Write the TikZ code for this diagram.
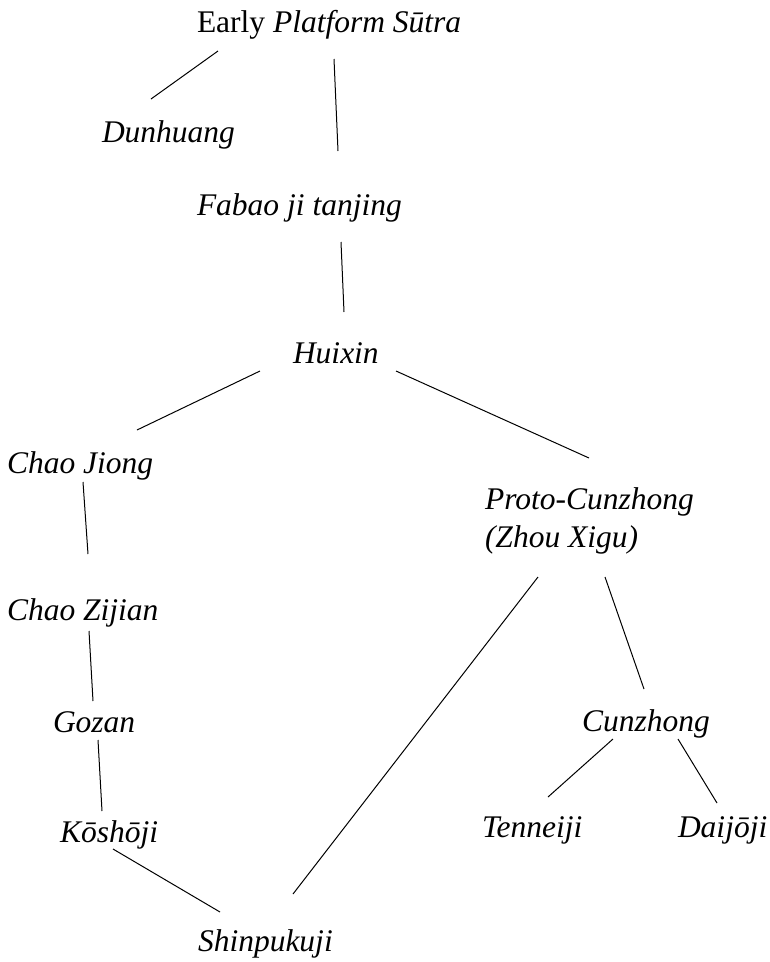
\documentclass[tikz,border=0pt]{standalone}
\usepackage{fontspec}
\setmainfont{Liberation Serif}
\tikzset{
  lbl/.style={anchor=base west, inner sep=0pt, outer sep=0pt, font=\fontsize{31.5}{38}\selectfont\itshape},
  conn/.style={line width=1pt, black}
}
\begin{document}
\begin{tikzpicture}[x=1pt, y=-1pt]
\useasboundingbox (0,0) rectangle (770,962);
\node[lbl] (early) at (197,32) {\upshape Early \itshape Platform Sūtra};
\node[lbl] (dun) at (102,142) {Dunhuang};
\node[lbl] (fab) at (197,215) {Fabao ji tanjing};
\node[lbl] (hui) at (293,363) {Huixin};
\node[lbl] (cj) at (7,473) {Chao Jiong};
\node[lbl] (proto) at (485,509) {Proto-Cunzhong};
\node[lbl] (proto2) at (485,547) {(Zhou Xigu)};
\node[lbl] (cz) at (7,620) {Chao Zijian};
\node[lbl] (goz) at (53,732) {Gozan};
\node[lbl] (kos) at (60,842) {Kōshōji};
\node[lbl] (shin) at (198,951) {Shinpukuji};
\node[lbl] (cun) at (582,731) {Cunzhong};
\node[lbl] (ten) at (482,837) {Tenneiji};
\node[lbl] (dai) at (678,837) {Daijōji};

\draw[conn] ([shift={(21,19)}]early.base west) -- ([shift={(49,-43)}]dun.base west);
\draw[conn] ([shift={(137,27)}]early.base west) -- ([shift={(141,-64)}]fab.base west);
\draw[conn] ([shift={(144,27)}]fab.base west) -- ([shift={(51,-51)}]hui.base west);
\draw[conn] ([shift={(-33,8)}]hui.base west) -- ([shift={(130,-43)}]cj.base west);
\draw[conn] ([shift={(103,8)}]hui.base west) -- ([shift={(104,-51)}]proto.base west);
\draw[conn] ([shift={(76,9)}]cj.base west) -- ([shift={(81,-66)}]cz.base west);
\draw[conn] ([shift={(82,11)}]cz.base west) -- ([shift={(40,-31)}]goz.base west);
\draw[conn] ([shift={(45,8)}]goz.base west) -- ([shift={(42,-31)}]kos.base west);
\draw[conn] ([shift={(53,7)}]kos.base west) -- ([shift={(22,-39)}]shin.base west);
\draw[conn] ([shift={(53,30)}]proto2.base west) -- ([shift={(95,-57)}]shin.base west);
\draw[conn] ([shift={(120,30)}]proto2.base west) -- ([shift={(62,-42)}]cun.base west);
\draw[conn] ([shift={(31,8)}]cun.base west) -- ([shift={(66,-40)}]ten.base west);
\draw[conn] ([shift={(96,8)}]cun.base west) -- ([shift={(39,-34)}]dai.base west);
\end{tikzpicture}
\end{document}
